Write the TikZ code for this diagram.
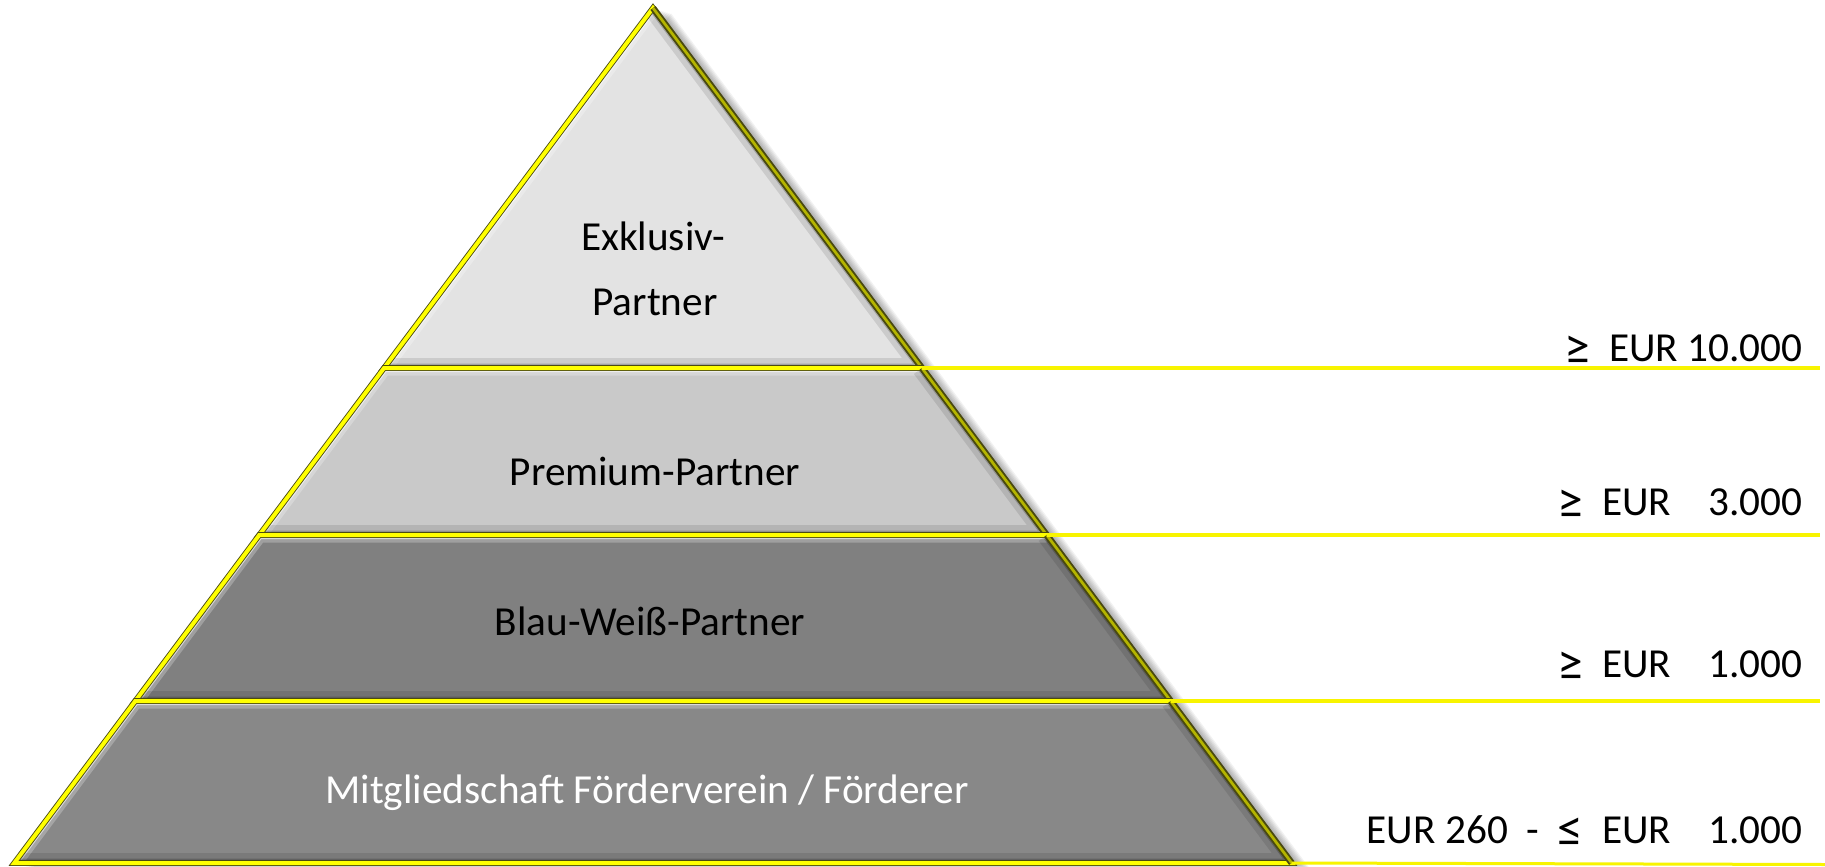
\documentclass[tikz,border=0pt]{standalone}
\usepackage{fontspec}
\usepackage{graphicx}
\setmainfont{Carlito}
\definecolor{tierA}{HTML}{E3E3E3}
\definecolor{tierB}{HTML}{C9C9C9}
\definecolor{tierC}{HTML}{808080}
\definecolor{tierD}{HTML}{888888}
\definecolor{rimdarkc}{HTML}{4A4A10}
\definecolor{rimyel}{HTML}{FFFF00}
\definecolor{olivein}{HTML}{B4B400}
\definecolor{guidec}{HTML}{F8F400}
\newcommand\mygeq{\raisebox{-0.08em}{\scalebox{1.25}{≥}}}
\newcommand\myleq{\raisebox{-0.08em}{\scalebox{1.25}{≤}}}
\newcommand\pyrtier[5]{%
  \begin{scope}
    \clip (#1) -- (#2) -- (#3) -- (#4) -- cycle;
    \fill[#5] (#1) -- (#2) -- (#3) -- (#4) -- cycle;
    \draw[white, line width=6pt, opacity=.25] (#4) -- (#1) -- (#2);
    \draw[white, line width=3.2pt, opacity=.6] (#4) -- (#1) -- (#2);
    \draw[black, line width=8pt, opacity=.10] (#2) -- (#3) -- (#4);
    \draw[black, line width=3.6pt, opacity=.2] (#2) -- (#3) -- (#4);
  \end{scope}
  \draw[rimdark] (#1) -- (#2) -- (#3) -- (#4) -- cycle;
  \draw[rimyellow] (#1) -- (#2) -- (#3) -- (#4) -- cycle;
  \draw[rimolive] (#2) -- (#3);
  \draw[rimolivein] (#2) -- (#3);
}
\begin{document}
\begin{tikzpicture}[x=0.4pt,y=-0.4pt,
  lbl/.style={font=\fontsize{16.5}{19}\selectfont, inner sep=0pt, text=black},
  rlbl/.style={lbl, anchor=base east},
  tlbl/.style={lbl, anchor=base},
  guide/.style={draw=guidec, line width=1.8pt},
  rimdark/.style={draw=rimdarkc, line width=2.3pt},
  rimyellow/.style={draw=rimyel, line width=1.6pt},
  rimolive/.style={draw=rimdarkc, line width=2.6pt},
  rimolivein/.style={draw=olivein, line width=1.1pt}]
\useasboundingbox (0,0) rectangle (1825,866);
\fill[white] (0,0) rectangle (1825,866);

% corner points of the pyramid tiers
\coordinate (apex) at (653,8);
\coordinate (l1) at (384.1,368);  \coordinate (r1) at (921.9,368);
\coordinate (l2) at (259.3,535);  \coordinate (r2) at (1046.7,535);
\coordinate (l3) at (135.3,701);  \coordinate (r3) at (1170.7,701);
\coordinate (l4) at (14.3,863);   \coordinate (r4) at (1291.7,863);
\coordinate (e1) at (1820,368);
\coordinate (e2) at (1820,535);
\coordinate (e3) at (1820,701);
\coordinate (e4) at (1825,864.5);

% soft shadow on the right
\foreach \k in {2,4,...,18}
  \fill[black, opacity=0.05]
    ([xshift=\k*0.4pt, yshift=-\k*0.12pt]apex) --
    ([xshift=\k*0.4pt, yshift=-\k*0.12pt]r4) --
    ([xshift=\k*0.4pt, yshift=-\k*0.12pt]l4) -- cycle;

% tiers
\pyrtier{apex}{apex}{r1}{l1}{tierA}
\pyrtier{l1}{r1}{r2}{l2}{tierB}
\pyrtier{l2}{r2}{r3}{l3}{tierC}
\pyrtier{l3}{r3}{r4}{l4}{tierD}

% guide lines to the right
\draw[guide] (r1) -- (e1);
\draw[guide] (r2) -- (e2);
\draw[guide] (r3) -- (e3);
\draw[guide, line width=1.2pt] (r4) -- (e4);

% tier labels
\node[tlbl] (exk1) at (653,250) {Exklusiv-};
\node[tlbl] (exk2) at (655,315) {Partner};
\node[tlbl] (prem) at (655,485) {Premium-Partner};
\node[tlbl] (blau) at (650,635) {Blau-Weiß-Partner};
\node[tlbl, text=white] (mitg) at (647,803) {Mitgliedschaft Förderverein / Förderer};

% amount labels
\node[rlbl] (amt1) at (1803,361) {\mygeq\ \ EUR 10.000};
\node[rlbl] (amt2) at (1803,515) {\mygeq\ \ EUR\ \ \ \ 3.000};
\node[rlbl] (amt3) at (1803,677) {\mygeq\ \ EUR\ \ \ \ 1.000};
\node[rlbl] (amt4) at (1803,843) {EUR 260\ \ -\ \ \myleq\ \ EUR\ \ \ \ 1.000};
\end{tikzpicture}
\end{document}
